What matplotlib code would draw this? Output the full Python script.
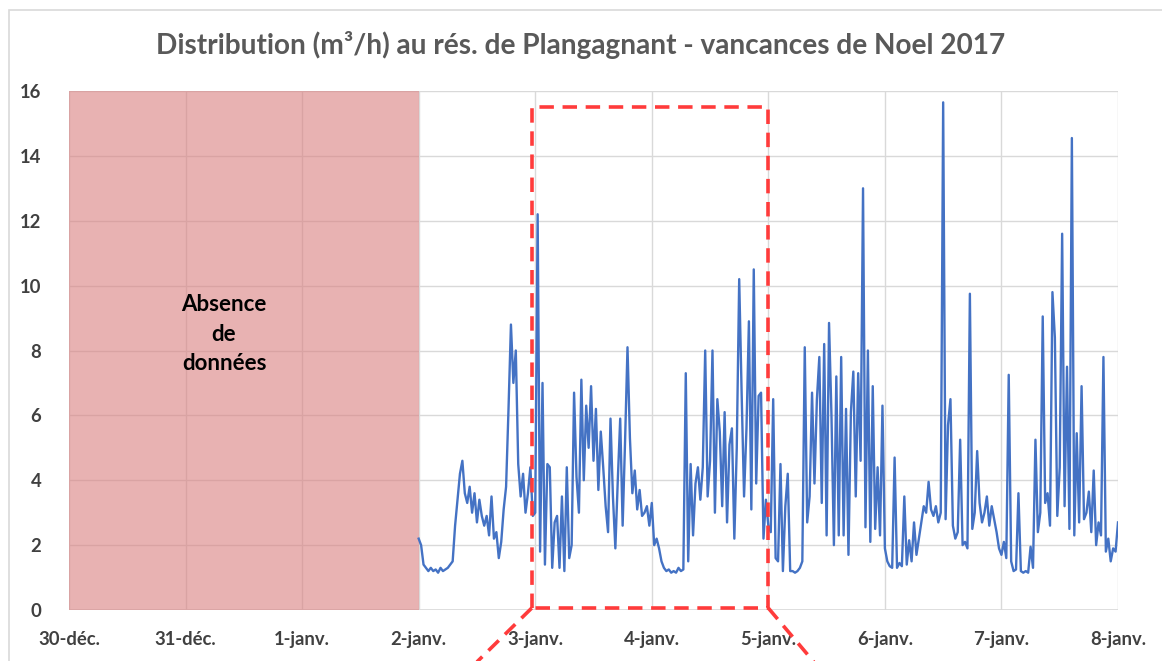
import matplotlib
matplotlib.use("Agg")
import matplotlib.pyplot as plt
import numpy as np
from matplotlib.patches import Rectangle

# ── data (30-min samples, m3/h) ──────────────────────────────────────────────
DAY_LABELS = ["30-déc.", "31-déc.", "1-janv.", "2-janv.", "3-janv.",
              "4-janv.", "5-janv.", "6-janv.", "7-janv.", "8-janv."]
Y_TICKS = [0, 2, 4, 6, 8, 10, 12, 14, 16]

flow_jan2 = [2.2, 2.0, 1.4, 1.3, 1.2, 1.3, 1.2, 1.25, 1.15, 1.3, 1.2, 1.25,
             1.3, 1.4, 1.5, 2.6, 3.4, 4.2, 4.6, 3.6, 3.3, 3.8, 3.0, 3.6,
             2.7, 3.4, 2.9, 2.6, 2.9, 2.3, 3.5, 2.2, 2.4, 1.6, 2.1, 3.1,
             3.8, 6.2, 8.8, 7.0, 8.0, 4.5, 3.5, 4.2, 3.0, 3.6, 4.4, 2.9]
flow_jan3 = [3.0, 12.2, 1.8, 7.0, 1.4, 4.5, 4.4, 1.3, 2.7, 2.9, 1.3, 3.5,
             1.2, 4.4, 1.6, 2.0, 6.7, 4.1, 3.0, 7.1, 4.0, 6.3, 5.0, 6.9,
             4.6, 6.2, 3.7, 5.5, 4.4, 3.2, 2.4, 5.9, 3.5, 1.9, 4.0, 5.9,
             2.6, 5.2, 8.1, 5.3, 3.6, 4.3, 3.1, 3.7, 2.9, 3.0, 3.2, 2.6]
flow_jan4 = [3.3, 2.0, 2.2, 1.9, 1.5, 1.3, 1.2, 1.25, 1.15, 1.2, 1.15, 1.3,
             1.2, 1.25, 7.3, 1.5, 4.5, 2.3, 3.9, 4.4, 3.4, 4.4, 8.0, 3.5,
             4.6, 8.0, 3.0, 6.5, 5.5, 3.2, 6.1, 2.7, 5.1, 5.6, 2.2, 5.0,
             10.2, 6.7, 3.5, 5.6, 8.9, 3.1, 10.5, 3.9, 6.6, 6.7, 2.2, 3.4]
flow_jan5 = [2.6, 2.4, 6.5, 1.6, 1.5, 4.5, 1.2, 3.2, 4.2, 1.2, 1.2, 1.15,
             1.2, 1.3, 1.5, 8.1, 2.7, 3.5, 6.7, 3.9, 6.5, 7.8, 3.3, 8.2,
             2.3, 8.85, 6.0, 2.0, 7.2, 2.3, 7.8, 2.3, 6.2, 1.7, 6.1, 7.35,
             3.5, 7.3, 4.6, 13.0, 2.55, 8.0, 2.1, 6.9, 2.5, 4.4, 2.3, 6.3]
flow_jan6 = [1.9, 1.5, 1.35, 1.3, 4.7, 1.3, 1.45, 1.35, 3.5, 1.4, 2.15, 1.5,
             2.7, 1.7, 2.2, 2.7, 3.2, 3.0, 3.95, 3.1, 2.9, 3.2, 2.7, 3.0,
             15.65, 2.8, 5.7, 6.5, 2.6, 2.2, 2.4, 5.25, 2.0, 2.1, 1.9, 9.75,
             2.5, 3.0, 4.9, 3.3, 2.7, 3.0, 3.5, 2.6, 3.2, 2.8, 2.4, 1.9]
flow_jan7 = [1.7, 2.1, 1.6, 7.25, 1.5, 1.2, 1.25, 3.6, 1.2, 1.15, 1.2, 1.15,
             1.95, 1.3, 5.25, 2.4, 3.0, 9.05, 3.3, 3.6, 2.6, 9.8, 8.4, 2.9,
             4.4, 11.6, 3.2, 7.5, 2.5, 14.55, 2.3, 5.45, 2.7, 6.9, 2.8, 3.0,
             3.65, 2.4, 4.3, 2.0, 2.7, 2.3, 7.8, 1.8, 2.2, 1.5, 1.9, 1.8]
flow_jan8 = [2.7]

flow = np.array(flow_jan2 + flow_jan3 + flow_jan4 + flow_jan5
                + flow_jan6 + flow_jan7 + flow_jan8)
t_days = 3 + np.arange(len(flow)) / 48   # days since 30-déc.

NO_DATA_SPAN = (0, 3)          # 30-déc. -> 2-janv.
ZOOM_BOX = (3.97, 6.0)         # highlighted period (days)
ZOOM_TOP = 15.5

GRID = "#D9D9D9"
TXT = "#404040"

fig = plt.figure(figsize=(11.62, 6.61), dpi=100)
fig.patch.set_facecolor("white")
ax = fig.add_axes([69 / 1162, 1 - 610 / 661, (1118 - 69) / 1162, (610 - 91) / 661])

# outer chart frame
fig.add_artist(Rectangle((9 / 1162, -0.05), 1.2, 1 - 10 / 661 + 0.05,
                         transform=fig.transFigure, fill=False,
                         edgecolor=GRID, linewidth=1.2))

ax.set_xlim(0, 9)
ax.set_ylim(0, 16)
ax.set_xticks(range(10))
ax.set_xticklabels(DAY_LABELS)
ax.set_yticks(Y_TICKS)
ax.grid(True, color=GRID, linewidth=1.0, zorder=0)
ax.set_axisbelow(True)
for s in ax.spines.values():
    s.set_visible(False)
ax.axhline(0, color=GRID, linewidth=1.2, zorder=1)
ax.tick_params(length=0, colors=TXT, labelsize=13.3)
ax.tick_params(axis="x", pad=15)
ax.tick_params(axis="y", pad=20)
for lab in ax.get_xticklabels() + ax.get_yticklabels():
    lab.set_fontweight("bold")
    lab.set_family("Lato")

# no-data shading
ax.axvspan(*NO_DATA_SPAN, ymin=0, ymax=1, color="#D98080", alpha=0.6,
           linewidth=0, zorder=1)
ax.text(1.33, 8.5, "Absence\nde\ndonnées", ha="center", va="center",
        fontsize=16, fontweight="bold", family="Lato", color="black",
        linespacing=1.5, zorder=3)

ax.plot(t_days, flow, color="#4472C4", linewidth=1.7, zorder=4)

# highlighted period box with leader lines
red = "#FF3B3B"
x0, x1 = ZOOM_BOX
ax.plot([x0, x0, x1, x1, x0], [0.06, ZOOM_TOP, ZOOM_TOP, 0.06, 0.06],
        color=red, linewidth=2.6, dashes=(4, 2.4), zorder=5, clip_on=False)
ax.plot([x0, 3.5], [0.06, -1.6], color=red, linewidth=2.6, dashes=(4, 2.4),
        zorder=5, clip_on=False)
ax.plot([x1, 6.39], [0.06, -1.6], color=red, linewidth=2.6, dashes=(4, 2.4),
        zorder=5, clip_on=False)

fig.text(0.5, 1 - 45 / 661, "Distribution (m³/h) au rés. de Plangagnant - vancances de Noel 2017",
         ha="center", va="center", fontsize=20.2, fontweight="bold",
         family="Lato", color="#595959")

fig.savefig("out.png", dpi=100, facecolor="white")
